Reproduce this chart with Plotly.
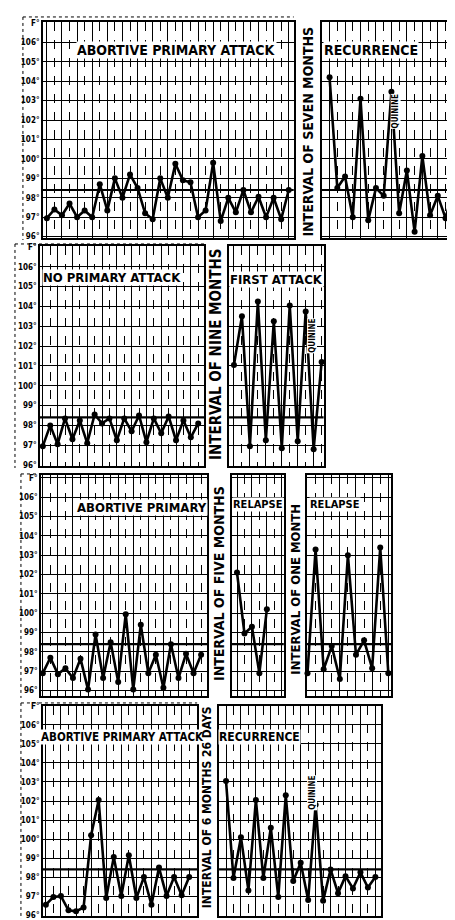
import plotly.graph_objects as go

W, H = 455, 920

# ---------------- data: temperature readings (°F) ----------------
abortive_attack_a = [96.95, 97.4, 97.1, 97.7, 97.0, 97.35, 97.0, 98.7, 97.35, 99.0, 98.0,
                     99.2, 98.5, 97.2, 96.9, 99.0, 98.0, 99.75, 98.9, 98.8, 97.0, 97.35,
                     99.8, 96.8, 98.0, 97.25, 98.4, 97.25, 98.05, 97.0, 98.0, 96.9, 98.4]
recurrence_a = [104.2, 98.5, 99.1, 97.0, 103.1, 96.85, 98.5, 98.1, 103.45, 97.2, 99.4,
                96.25, 100.15, 97.1, 98.1, 96.95, 98.4, 97.35]
no_primary = [96.95, 98.0, 97.05, 98.35, 97.3, 98.25, 97.1, 98.55, 98.1, 98.35, 97.25,
              98.35, 97.7, 98.5, 97.15, 98.35, 97.6, 98.45, 97.25, 98.25, 97.4, 98.1]
first_attack = [101.05, 103.5, 96.95, 104.25, 97.25, 103.25, 96.85, 104.05, 97.2, 103.75,
                96.8, 101.2]
abortive_primary = [96.9, 97.7, 96.85, 97.15, 96.65, 97.65, 96.05, 98.9, 96.65, 98.5, 96.45,
                    99.95, 96.05, 99.4, 96.9, 97.85, 96.15, 98.4, 96.65, 97.9, 96.9, 97.85]
relapse_a = [102.1, 98.95, 99.3, 96.9, 100.2]
relapse_b = [96.9, 103.3, 97.1, 98.3, 96.6, 103.0, 97.85, 98.6, 97.15, 103.4, 96.9]
abortive_attack_b = [96.55, 96.95, 97.0, 96.25, 96.2, 96.4, 100.2, 102.05, 96.9, 99.05, 97.0,
                     99.15, 96.9, 98.0, 96.55, 98.5, 97.0, 98.0, 97.05, 98.0]
recurrence_b = [103.05, 97.95, 100.1, 97.3, 102.05, 97.95, 100.6, 96.95, 102.3, 97.8, 98.75,
                96.8, 101.8, 96.75, 98.4, 97.15, 98.05, 97.4, 98.25, 97.45, 98.0]

tick_vals = [96, 97, 98, 99, 100, 101, 102, 103, 104, 105, 106, 107]
tick_text = ["96°", "97°", "98°", "99°", "100°", "101°", "102°", "103°", "104°", "105°", "106°", "F°"]

panel_titles = ["ABORTIVE PRIMARY ATTACK", "RECURRENCE", "NO PRIMARY ATTACK", "FIRST ATTACK",
                "ABORTIVE PRIMARY", "RELAPSE", "RELAPSE", "ABORTIVE PRIMARY ATTACK", "RECURRENCE"]
interval_texts = ["INTERVAL OF SEVEN MONTHS", "INTERVAL OF NINE MONTHS",
                  "INTERVAL OF FIVE MONTHS", "INTERVAL OF ONE MONTH",
                  "INTERVAL OF 6 MONTHS 26 DAYS"]
quinine = "QUININE"
normal_temp = 98.4

series = [abortive_attack_a, recurrence_a, no_primary, first_attack, abortive_primary,
          relapse_a, relapse_b, abortive_attack_b, recurrence_b]

# ---------------- layout (pixel boxes) ----------------
# (left, right, top, bottom) px ; x range in reading index ; y range in °F ; show labels
panels = [
    ((35, 287, 10, 228), (-0.53, 32.66), (95.93, 107.05), True),
    ((315, 455, 10, 228), (-1.03, 17.0), (95.93, 107.05), False),
    ((32, 197, 236, 458), (-0.4, 21.8), (95.95, 107.05), True),
    ((222, 317, 236, 458), (-0.62, 11.25), (95.95, 107.05), False),
    ((33, 200, 467, 690), (-0.26, 21.8), (95.72, 107.15), True),
    ((225, 277, 467, 690), (-0.67, 6.27), (95.72, 107.15), False),
    ((300, 385, 467, 690), (-0.1, 10.37), (95.72, 107.15), False),
    ((35, 190, 700, 912), (-0.4, 20.06), (95.95, 107.0), True),
    ((212, 375, 700, 912), (-0.93, 20.8), (95.95, 107.0), False),
]
title_pos = [(169, 38, 14), (365, 38, 14), (104, 268, 13), (270, 270, 13), (135, 500, 13),
             (251, 497, 11), (328, 497, 11), (115, 731, 11.5), (253, 731, 12)]
interval_pos = [(301, 121, 14), (209, 345, 15), (212, 577, 14), (289, 582, 13), (200, 802, 12)]
quinine_pos = [(389, 100), (305, 327), (305, 788)]

FONT = "DejaVu Sans Condensed, Liberation Sans Narrow, Arial Narrow, DejaVu Sans, sans-serif"

fig = go.Figure()
layout = dict(width=W, height=H, margin=dict(l=0, r=0, t=0, b=0),
              paper_bgcolor="white", plot_bgcolor="white", showlegend=False)
shapes = []
annotations = []

for i, ((l, r, t, b), xr, yr, labels) in enumerate(panels):
    k = "" if i == 0 else str(i + 1)
    vals = series[i]
    fig.add_trace(go.Scatter(
        x=list(range(len(vals))), y=vals, xaxis="x" + k, yaxis="y" + k,
        mode="lines+markers", line=dict(color="black", width=2.6),
        marker=dict(color="black", size=6), cliponaxis=False, hoverinfo="skip"))
    layout["xaxis" + k] = dict(
        domain=[l / W, r / W], range=list(xr), anchor="y" + k,
        dtick=2, tick0=0, showgrid=True, gridcolor="black", gridwidth=1.1,
        minor=dict(dtick=1, tick0=0, showgrid=True, gridcolor="black", gridwidth=0.7,
                   griddash="dash"),
        showticklabels=False, ticks="", zeroline=False,
        showline=True, linecolor="black", linewidth=1.5, mirror=True, fixedrange=True)
    layout["yaxis" + k] = dict(
        domain=[1 - b / H, 1 - t / H], range=list(yr), anchor="x" + k,
        tickvals=tick_vals, ticktext=tick_text, showticklabels=labels, ticks="",
        tickfont=dict(family=FONT, size=8, color="black", weight="bold"),
        showgrid=True, gridcolor="black", gridwidth=1.3, zeroline=False,
        showline=True, linecolor="black", linewidth=1.5, mirror=True, fixedrange=True)
    shapes.append(dict(type="line", xref="x" + k + " domain", x0=0, x1=1,
                       yref="y" + k, y0=normal_temp, y1=normal_temp,
                       line=dict(color="black", width=2.2), layer="below"))
    tx, ty, ts = title_pos[i]
    annotations.append(dict(xref="paper", yref="paper", x=tx / W, y=1 - ty / H,
                            text=panel_titles[i], showarrow=False, bgcolor="white",
                            borderpad=0, xanchor="center", yanchor="middle",
                            font=dict(family=FONT, size=ts, color="black", weight="bold")))

for (px, py, fs), txt in zip(interval_pos, interval_texts):
    annotations.append(dict(xref="paper", yref="paper", x=px / W, y=1 - py / H, text=txt,
                            textangle=-90, showarrow=False, xanchor="center",
                            yanchor="middle",
                            font=dict(family=FONT, size=fs, color="black", weight="bold")))

for px, py in quinine_pos:
    annotations.append(dict(xref="paper", yref="paper", x=px / W, y=1 - py / H, text=quinine,
                            textangle=-90, showarrow=False, bgcolor="white", borderpad=0,
                            xanchor="center", yanchor="middle",
                            font=dict(family=FONT, size=8, color="black", weight="bold")))

# sheet borders (left edge and top edge of each chart sheet)
for (x0, y0, y1, x1) in [(15, 5, 230, 287), (7, 234, 460, 197), (13, 466, 692, 200),
                         (13, 697, 915, 190)]:
    shapes.append(dict(type="line", xref="paper", yref="paper", x0=x0 / W, x1=x0 / W,
                       y0=1 - y0 / H, y1=1 - y1 / H,
                       line=dict(color="black", width=1, dash="dot")))
    shapes.append(dict(type="line", xref="paper", yref="paper", x0=x0 / W, x1=x1 / W,
                       y0=1 - y0 / H, y1=1 - y0 / H,
                       line=dict(color="black", width=1, dash="dot")))

layout["shapes"] = shapes
layout["annotations"] = annotations
fig.update_layout(**layout)
fig.write_html("out.html", config={"displayModeBar": False})
